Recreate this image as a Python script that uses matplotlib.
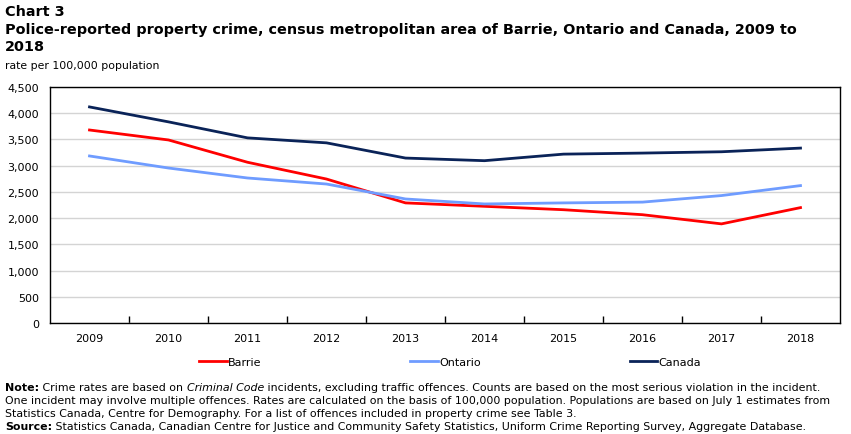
import numpy as np
import matplotlib
matplotlib.use('Agg')
import matplotlib.pyplot as plt
from matplotlib.ticker import FuncFormatter, FixedLocator

# -- data
years = ['2009', '2010', '2011', '2012', '2013', '2014', '2015', '2016', '2017', '2018']
barrie = [3680, 3490, 3065, 2745, 2290, 2225, 2160, 2065, 1890, 2200]
ontario = [3185, 2955, 2765, 2650, 2365, 2270, 2290, 2305, 2430, 2620]
canada = [4120, 3835, 3530, 3435, 3145, 3095, 3220, 3240, 3265, 3335]

series = [('Barrie', barrie, '#ff0000'),
          ('Ontario', ontario, '#6f9cff'),
          ('Canada', canada, '#0a2358')]

plt.rcParams['font.family'] = 'DejaVu Sans'

fig = plt.figure(figsize=(8.51, 4.35), dpi=100)
ax = fig.add_axes([50 / 851, 1 - 324 / 435, 790 / 851, 236 / 435])

x = np.arange(len(years))
for name, vals, col in series:
    ax.plot(x, vals, color=col, lw=2, label=name, solid_joinstyle='round')

ax.set_xlim(-0.5, len(years) - 0.5)
ax.set_ylim(0, 4500)
ax.set_yticks(np.arange(0, 4501, 500))
ax.yaxis.set_major_formatter(FuncFormatter(lambda v, p: f'{int(v):,}'))
ax.grid(axis='y', color='#d4d4d4', lw=1)
ax.set_axisbelow(True)
ax.tick_params(axis='y', length=0, labelsize=8, pad=8)

ax.set_xticks(x)
ax.set_xticklabels(years, fontsize=8)
ax.tick_params(axis='x', which='major', length=0, pad=7)
ax.xaxis.set_minor_locator(FixedLocator(np.arange(0.5, len(years) - 1, 1)))
ax.tick_params(axis='x', which='minor', direction='in', length=5, width=1, color='black')
for s in ax.spines.values():
    s.set_color('black')
    s.set_linewidth(1)

fig.legend(loc='center', bbox_to_anchor=(450 / 851, 1 - 363 / 435), ncol=3, frameon=False,
           fontsize=8, handlelength=2.5, handletextpad=0.1, columnspacing=13.4)

# -- titles
fig.text(5 / 851, 1 - 5 / 435, 'Chart 3', fontsize=10.4, fontweight='bold', va='top')
fig.text(5 / 851, 1 - 23 / 435,
         'Police-reported property crime, census metropolitan area of Barrie, Ontario and Canada, 2009 to\n2018',
         fontsize=10.4, fontweight='bold', va='top', linespacing=1.3)
fig.text(5 / 851, 1 - 61 / 435, 'rate per 100,000 population', fontsize=7.8, va='top')

# -- notes, written as runs so that bold and italic parts line up
fig.canvas.draw()
renderer = fig.canvas.get_renderer()

def runs(y, parts, size=7.9):
    xpos = 5
    for txt, style in parts:
        kw = {}
        if style == 'b':
            kw['fontweight'] = 'bold'
        if style == 'i':
            kw['fontstyle'] = 'italic'
        t = fig.text(xpos / 851, 1 - y / 435, txt, fontsize=size, va='baseline', **kw)
        bb = t.get_window_extent(renderer)
        xpos += bb.width

runs(391, [('Note:', 'b'), (' Crime rates are based on ', ''), ('Criminal Code', 'i'),
           (' incidents, excluding traffic offences. Counts are based on the most serious violation in the incident.', '')])
runs(404, [('One incident may involve multiple offences. Rates are calculated on the basis of 100,000 population. Populations are based on July 1 estimates from', '')])
runs(417, [('Statistics Canada, Centre for Demography. For a list of offences included in property crime see Table 3.', '')])
runs(430, [('Source:', 'b'), (' Statistics Canada, Canadian Centre for Justice and Community Safety Statistics, Uniform Crime Reporting Survey, Aggregate Database.', '')])

fig.savefig('out.png', dpi=100)
